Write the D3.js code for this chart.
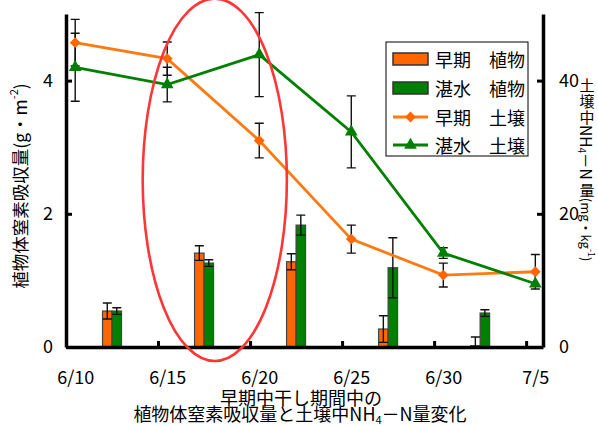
<!DOCTYPE html>
<html>
<head>
<meta charset="utf-8">
<script src="https://cdn.jsdelivr.net/npm/d3@7"></script>
<style>
  body { margin: 0; background: #fff; }
  text { font-family: "Noto Sans CJK JP", sans-serif; fill: #000; }
</style>
</head>
<body>
<div id="chart"></div>
<script>
// soil NH4-N (right axis, mg/kg)
var lineDates = ["6/10", "6/15", "6/20", "6/25", "6/30", "7/5"];
var earlySoil = [45.7, 43.3, 31.0, 16.2, 10.8, 11.3];
var earlySoilErr = [3.5, 2.5, 2.6, 2.1, 1.8, 2.6];
var floodSoil = [42.0, 39.4, 43.9, 32.3, 14.1, 9.5];
var floodSoilErr = [5.1, 2.6, 6.3, 5.4, 0.8, 0];

// plant N uptake (left axis, g/m2)
var barDates = ["6/12", "6/17", "6/22", "6/27", "7/2"];
var earlyPlant = [0.54, 1.41, 1.28, 0.27, 0.02];
var earlyPlantErr = [0.12, 0.11, 0.12, 0.20, 0.13];
var floodPlant = [0.54, 1.26, 1.83, 1.19, 0.51];
var floodPlantErr = [0.05, 0.05, 0.15, 0.45, 0.05];

var leftTicks = [0, 2, 4];
var rightTicks = [0, 20, 40];
var legendLabels = ["早期\u3000植物", "湛水\u3000植物", "早期\u3000土壌", "湛水\u3000土壌"];

// red highlight ellipse, in data terms
var highlightDates = ["6/13 16", "6/21 12"];
var highlightVals = [-0.21, 5.23];

var width = 598, height = 425;
var orange = "#ff6600", orangeLine = "#ff7a10", green = "#008000";

var parseDay = d3.timeParse("%m/%d");
var parseHour = d3.timeParse("%m/%d %H");
var t0 = parseDay(lineDates[0]), t1 = parseDay(lineDates[lineDates.length - 1]);

var x = d3.scaleTime()
    .domain([d3.timeHour.offset(t0, -12), d3.timeHour.offset(t1, 10)])
    .range([66, 543]);
var yL = d3.scaleLinear().domain([0, 5]).range([347, 14]);
var yR = d3.scaleLinear().domain([0, 50]).range([347, 14]);

var svg = d3.select("#chart").append("svg")
    .attr("width", width)
    .attr("height", height);

// bars
var barW = 9.5;
var bars = barDates.map(function(d, i) {
  return {t: parseDay(d), e: earlyPlant[i], ee: earlyPlantErr[i], f: floodPlant[i], fe: floodPlantErr[i]};
});
var g_bars = svg.append("g");
g_bars.selectAll(".e_bar").data(bars).enter().append("rect")
    .attr("x", function(d) { return x(d.t) - barW; })
    .attr("y", function(d) { return yL(d.e); })
    .attr("width", barW)
    .attr("height", function(d) { return yL(0) - yL(d.e); })
    .attr("fill", orange).attr("stroke", "#444").attr("stroke-width", 1.2);
g_bars.selectAll(".f_bar").data(bars).enter().append("rect")
    .attr("x", function(d) { return x(d.t); })
    .attr("y", function(d) { return yL(d.f); })
    .attr("width", barW)
    .attr("height", function(d) { return yL(0) - yL(d.f); })
    .attr("fill", green).attr("stroke", "#444").attr("stroke-width", 1.2);

function errBar(g, cx, lo, hi, cap) {
  var p = "M" + cx + "," + lo + "V" + hi +
          "M" + (cx - cap) + "," + lo + "H" + (cx + cap) +
          "M" + (cx - cap) + "," + hi + "H" + (cx + cap);
  g.append("path").attr("d", p).attr("fill", "none")
      .attr("stroke", "#111").attr("stroke-width", 1.4);
}
bars.forEach(function(d) {
  var xe = x(d.t) - barW / 2, xf = x(d.t) + barW / 2;
  errBar(g_bars, xe, yL(Math.max(0, d.e - d.ee)), yL(d.e + d.ee), 4.5);
  errBar(g_bars, xf, yL(d.f - d.fe), yL(d.f + d.fe), 4.5);
});

// soil lines
var g_lines = svg.append("g");
var series = [
  {v: earlySoil, err: earlySoilErr, color: orangeLine, mark: orange, sym: "diamond"},
  {v: floodSoil, err: floodSoilErr, color: green, mark: green, sym: "triangle"}
];
series.forEach(function(s) {
  lineDates.forEach(function(d, i) {
    if (s.err[i] > 0)
      errBar(g_lines, x(parseDay(d)), yR(s.v[i] - s.err[i]), yR(s.v[i] + s.err[i]), 4.5);
  });
});
var line = d3.line()
    .x(function(d) { return x(parseDay(d.d)); })
    .y(function(d) { return yR(d.v); });
series.forEach(function(s) {
  var pts = lineDates.map(function(d, i) { return {d: d, v: s.v[i]}; });
  g_lines.append("path").datum(pts)
      .attr("d", line)
      .attr("fill", "none")
      .attr("stroke", s.color)
      .attr("stroke-width", 2.8);
});
var diamond = d3.symbol().type(d3.symbolSquare).size(58);
var triangle = d3.symbol().type(d3.symbolTriangle).size(70);
series.forEach(function(s) {
  g_lines.selectAll(null).data(lineDates).enter().append("path")
      .attr("d", s.sym == "diamond" ? diamond : triangle)
      .attr("transform", function(d, i) {
        return "translate(" + x(parseDay(d)) + "," + yR(s.v[i]) + ")" + (s.sym == "diamond" ? " rotate(45)" : "");
      })
      .attr("fill", s.mark);
});

// axes
var leftAxis = d3.axisLeft(yL).tickValues(leftTicks).tickFormat(d3.format("d"))
    .tickSizeInner(-6).tickSizeOuter(0).tickPadding(13);
var rightAxis = d3.axisRight(yR).tickValues(rightTicks).tickFormat(d3.format("d"))
    .tickSizeInner(-6).tickSizeOuter(0).tickPadding(16);
var tickMarks = lineDates.slice(1).map(function(d) { return d3.timeHour.offset(parseDay(d), -12); });
var bottomMarks = d3.axisBottom(x).tickValues(tickMarks).tickSizeInner(-6).tickSizeOuter(0).tickFormat("");
var bottomLabels = d3.axisBottom(x).tickValues(lineDates.map(parseDay)).tickSize(0).tickPadding(24)
    .tickFormat(function(d, i) { return lineDates[i]; });

function styleAxis(g) {
  g.selectAll("path.domain").attr("stroke", "#000").attr("stroke-width", 3.5);
  g.selectAll(".tick line").attr("stroke", "#000").attr("stroke-width", 3);
  g.selectAll("text").attr("font-size", 18).attr("font-family", "'Noto Sans CJK JP', sans-serif").attr("fill", "#000");
}
svg.append("g").attr("transform", "translate(0,347)").call(bottomLabels).call(styleAxis)
    .selectAll("path.domain").remove();
svg.append("g").attr("transform", "translate(0,347)").call(bottomMarks).call(styleAxis);
svg.append("g").attr("transform", "translate(66,0)").call(leftAxis).call(styleAxis);
svg.append("g").attr("transform", "translate(543,0)").call(rightAxis).call(styleAxis);

// left axis title
var lt = svg.append("text")
    .attr("transform", "translate(19,186) rotate(-90)")
    .attr("text-anchor", "middle")
    .attr("dominant-baseline", "central")
    .attr("font-size", 17.5);
lt.append("tspan").text("植物体窒素吸収量(g・m");
lt.append("tspan").attr("font-size", 11).attr("dy", -6).text("-2");
lt.append("tspan").attr("dy", 6).text(")");

// right axis title, vertical writing
var rg = svg.append("g");
var rx = 587, cur = 77;
function upright(ch, size) {
  rg.append("text").attr("x", rx).attr("y", cur + size / 2)
      .attr("text-anchor", "middle").attr("dominant-baseline", "central")
      .attr("font-size", size).text(ch);
  cur += size + 1;
}
function sideways(parts, size) {
  var t = rg.append("text")
      .attr("transform", "translate(" + rx + "," + cur + ") rotate(90)")
      .attr("dominant-baseline", "central")
      .attr("font-size", size);
  parts.forEach(function(p) {
    t.append("tspan").attr("font-size", p.s || size).attr("dy", p.dy || 0).text(p.t);
  });
  cur += t.node().getComputedTextLength() + 2;
}
upright("土", 15); upright("壌", 15); upright("中", 15);
sideways([{t: "NH"}, {t: "4", s: 10, dy: 4}, {t: "－N", dy: -4}], 15.5);
upright("量", 15);
sideways([{t: "(mg・kg"}, {t: "-1", s: 9, dy: -5}, {t: ")", dy: 5}], 13);

// legend
var lg = svg.append("g");
lg.append("rect").attr("x", 386).attr("y", 42).attr("width", 142).attr("height", 114)
    .attr("fill", "#fff").attr("stroke", "#000").attr("stroke-width", 1);
var rowY = [59, 88, 117, 145];
legendLabels.forEach(function(lab, i) {
  var yy = rowY[i];
  if (i < 2) {
    lg.append("rect").attr("x", 393).attr("y", yy - 6).attr("width", 35).attr("height", 12)
        .attr("fill", i == 0 ? orange : green).attr("stroke", "#333").attr("stroke-width", 1.5);
  } else {
    lg.append("line").attr("x1", 393).attr("x2", 428).attr("y1", yy).attr("y2", yy)
        .attr("stroke", i == 2 ? orangeLine : green).attr("stroke-width", 2.8);
    lg.append("path").attr("d", i == 2 ? diamond : triangle)
        .attr("transform", "translate(410.5," + yy + ")" + (i == 2 ? " rotate(45)" : ""))
        .attr("fill", i == 2 ? orange : green);
  }
  lg.append("text").attr("x", 435).attr("y", yy).attr("dominant-baseline", "central")
      .attr("font-size", 18).text(lab);
});

// highlight ellipse
var hx0 = x(parseHour(highlightDates[0])), hx1 = x(parseHour(highlightDates[1]));
var hy0 = yL(highlightVals[0]), hy1 = yL(highlightVals[1]);
svg.append("ellipse")
    .attr("cx", (hx0 + hx1) / 2).attr("cy", (hy0 + hy1) / 2)
    .attr("rx", (hx1 - hx0) / 2).attr("ry", (hy0 - hy1) / 2)
    .attr("fill", "none").attr("stroke", "#ff3636").attr("stroke-width", 2.6);

// caption
svg.append("text").attr("x", 301).attr("y", 405).attr("text-anchor", "middle")
    .attr("font-size", 18).text("早期中干し期間中の");
var cap = svg.append("text").attr("x", 300).attr("y", 421).attr("text-anchor", "middle")
    .attr("font-size", 18);
cap.append("tspan").text("植物体窒素吸収量と土壌中NH");
cap.append("tspan").attr("font-size", 11).attr("dy", 3).text("4");
cap.append("tspan").attr("dy", -3).text("－N量変化");
</script>
</body>
</html>
